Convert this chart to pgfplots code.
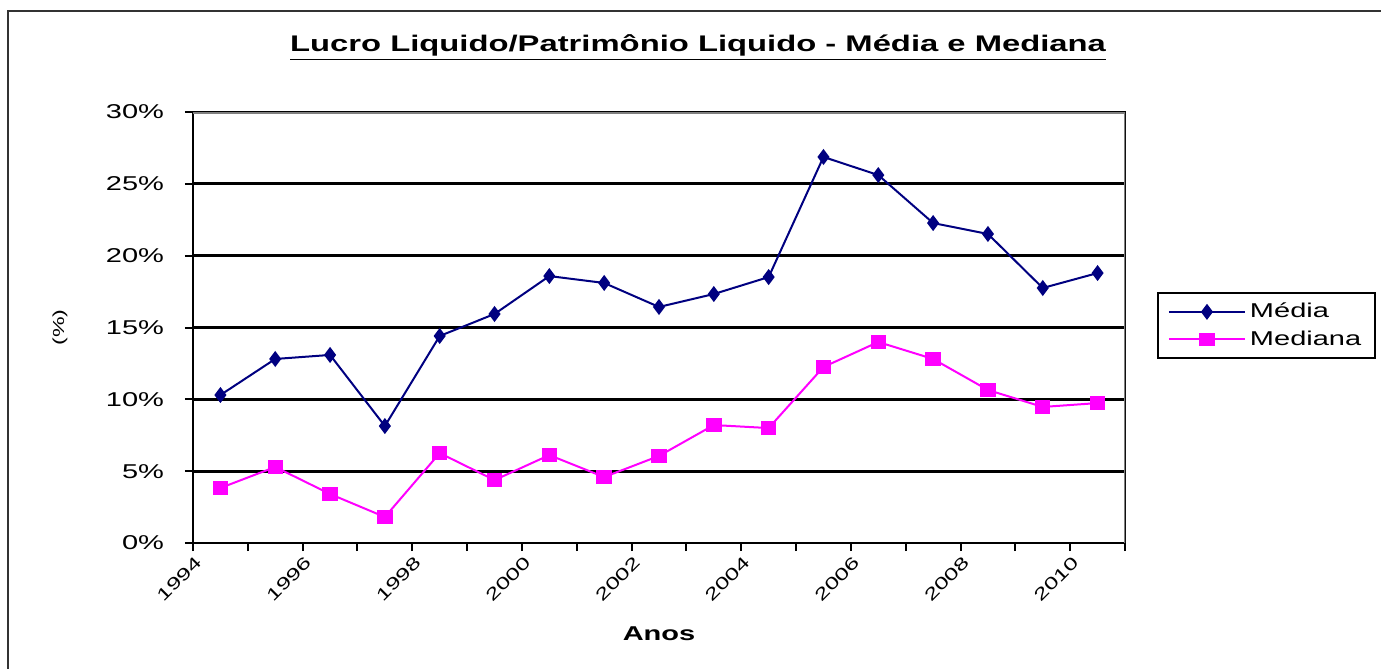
\documentclass[border=0pt]{standalone}
\usepackage{pgfplots}
\pgfplotsset{compat=1.18}
\usepackage{fontspec}
\setmainfont{Liberation Sans}[FakeStretch=1.45]
\definecolor{navy}{RGB}{0,0,128}
\definecolor{mag}{RGB}{255,0,255}
\pgfplotstableread{
x media mediana
0 10.30 3.83
1 12.81 5.29
2 13.09 3.41
3 8.14 1.81
4 14.41 6.26
5 15.94 4.38
6 18.58 6.12
7 18.10 4.59
8 16.43 6.06
9 17.33 8.21
10 18.51 8.00
11 26.87 12.25
12 25.61 13.99
13 22.27 12.81
14 21.51 10.65
15 17.75 9.47
16 18.79 9.74
}\datatable
\begin{document}
\begin{tikzpicture}
\path[use as bounding box] (-96.5pt,-63pt) rectangle (594pt,271.5pt);
\draw[line width=1.2pt, black!80] (-92.5pt,-70pt) -- (-92.5pt,266pt) -- (600pt,266pt);
\node[anchor=base, font=\bfseries\fontsize{11.3}{13}\selectfont] at (252.5pt,245.5pt) {\underline{Lucro Liquido/Patrimônio Liquido - Média e Mediana}};
\begin{axis}[
  at={(0pt,0pt)}, anchor=south west,
  scale only axis, width=466pt, height=215.5pt,
  xmin=-0.5, xmax=16.5, ymin=0, ymax=30,
  xtick={-0.5,1.5,...,15.5},
  xticklabels={1994,1996,1998,2000,2002,2004,2006,2008,2010},
  minor xtick={0.5,2.5,...,16.5},
  ytick={0,5,...,30},
  yticklabels={0\%,5\%,10\%,15\%,20\%,25\%,30\%},
  tick align=outside, major tick length=4pt, minor tick length=4pt, tick pos=left,
  ymajorgrids, grid style={black, line width=1.4pt},
  axis line style={black, line width=1pt},
  tick style={black, line width=1pt},
  minor tick style={black, line width=1pt},
  ticklabel style={font=\fontsize{10}{12}\selectfont},
  yticklabel style={xshift=-7pt},
  xticklabel style={rotate=45, anchor=east, inner sep=1pt, yshift=-5pt, font=\fontsize{8.5}{10}\selectfont},
  xlabel={\textbf{Anos}},
  xlabel style={at={(axis description cs:0.5,-0.211)}, anchor=center, font=\fontsize{10}{12}\selectfont},
  ylabel={(\%)},
  ylabel style={at={(axis description cs:-0.1427,0.5)}, anchor=center, font=\fontsize{8}{10}\selectfont},
  legend style={at={(axis description cs:1.0343,0.5824)}, anchor=north west, draw=black, line width=1pt,
    font=\fontsize{10}{12}\selectfont, inner xsep=5pt, inner ysep=3pt, row sep=1pt},
  legend cell align=left,
  legend image code/.code={\draw[mark repeat=2,mark phase=2,#1] plot coordinates {(0pt,0pt) (19pt,0pt) (38pt,0pt)};},
]
\draw[gray, line width=1.5pt] (rel axis cs:0,1) -- (rel axis cs:1,1) -- (rel axis cs:1,0);
\addplot[navy, line width=1pt, mark=diamond*, mark size=3.2pt, mark options={solid, fill=navy}] table[x=x, y=media] {\datatable};
\addlegendentry{Média}
\addplot[mag, line width=1pt, mark=square*, mark size=2.8pt, mark options={solid, fill=mag, xscale=1.2}] table[x=x, y=mediana] {\datatable};
\addlegendentry{Mediana}
\end{axis}
\end{tikzpicture}
\end{document}
